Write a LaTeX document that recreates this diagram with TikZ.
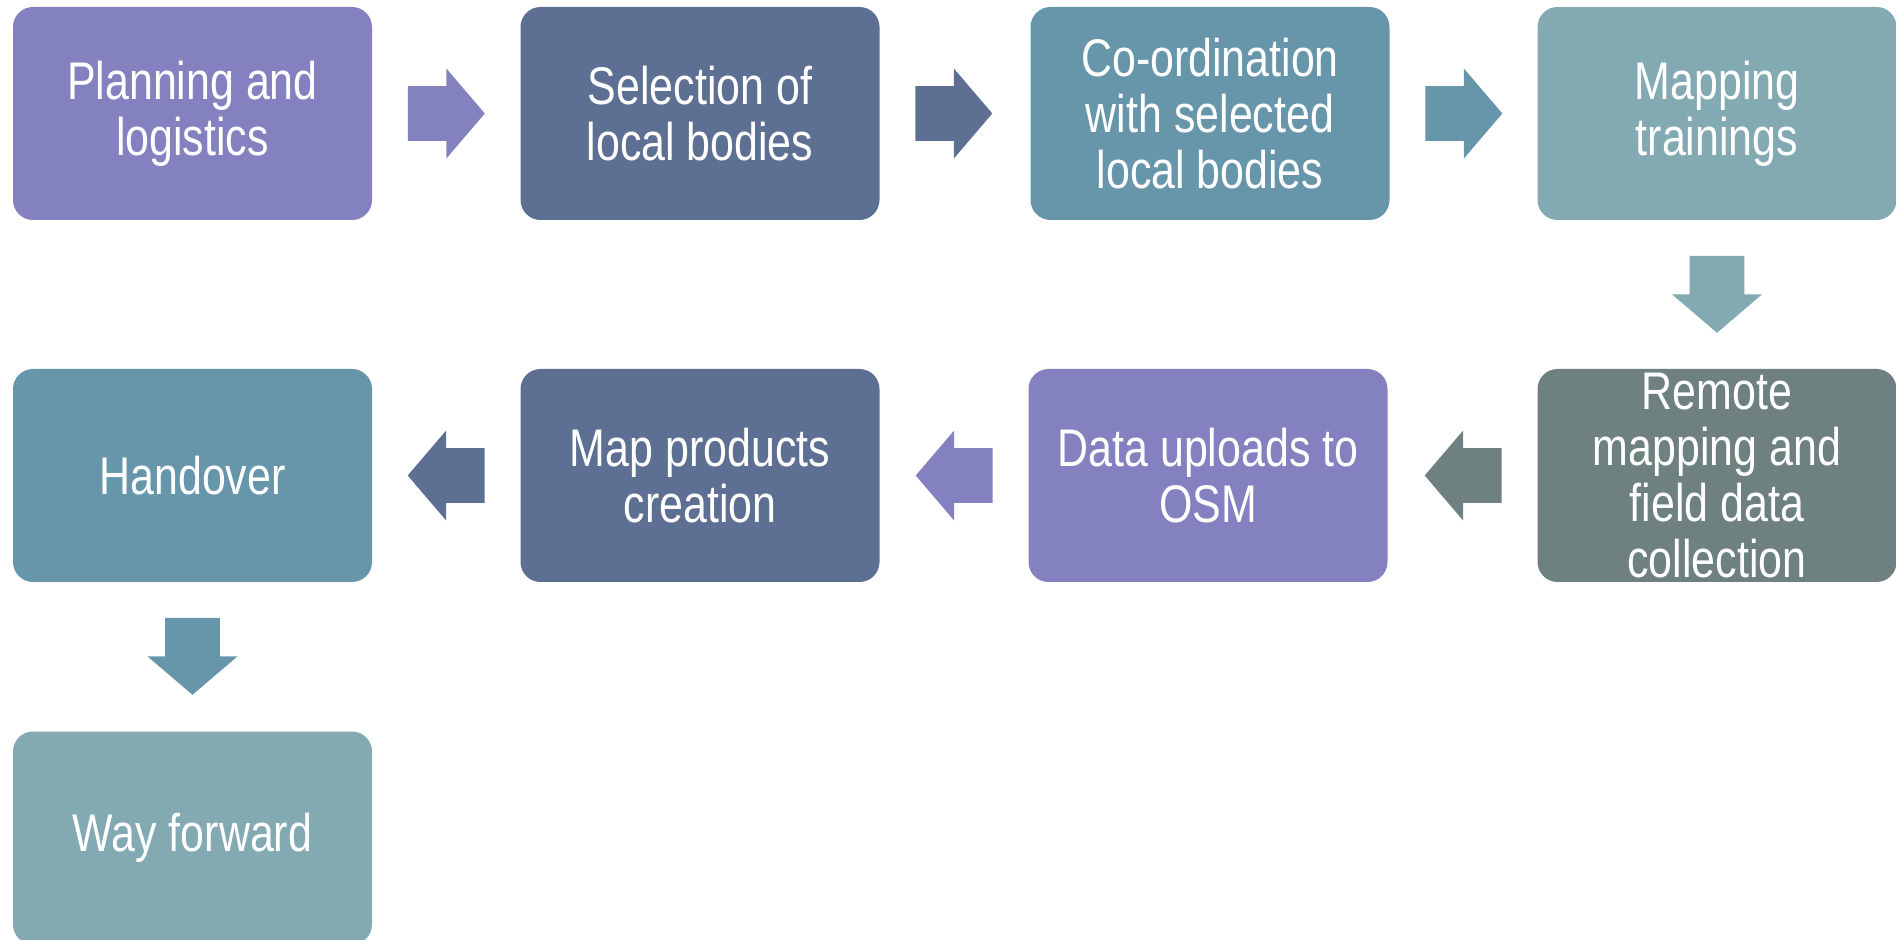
\documentclass[tikz,border=0pt]{standalone}
\usepackage{fontspec}
\setmainfont{Liberation Sans}[FakeStretch=0.81]
\usetikzlibrary{shapes.arrows,calc}

\definecolor{cpurple}{HTML}{8481C1}
\definecolor{cslate}{HTML}{5D7093}
\definecolor{cteal}{HTML}{6796AB}
\definecolor{clight}{HTML}{83A9B3}
\definecolor{cgrey}{HTML}{6E8080}

\begin{document}
\begin{tikzpicture}[x=0.5pt,y=0.5pt]
\tikzstyle{box}=[rounded corners=10pt, minimum width=179.5pt, minimum height=106.5pt, inner sep=0pt, text=white, align=center, font=\fontsize{26.5}{28}\selectfont]
\tikzstyle{blockarrow}=[single arrow, anchor=tail, single arrow tip angle=99, single arrow head extend=8.75pt, single arrow head indent=0pt, minimum height=38.5pt, minimum width=0pt, inner xsep=0pt, inner ysep=13.5pt]
\useasboundingbox (0,0) rectangle (1896,-940);
\node [box, fill=cpurple] (plan) at (192.5,-113.5) {Planning and\\logistics};
\node [box, fill=cslate] (select) at (700,-113.5) {Selection of\\local bodies};
\node [box, fill=cteal] (coord) at (1210,-113.5) {Co-ordination\\with selected\\local bodies};
\node [box, fill=clight] (train) at (1717,-113.5) {Mapping\\trainings};
\node [box, fill=cgrey] (remote) at (1717,-475.5) {Remote\\mapping and\\field data\\collection};
\node [box, fill=cpurple] (upload) at (1208,-475.5) {Data uploads to\\OSM};
\node [box, fill=cslate] (products) at (700,-475.5) {Map products\\creation};
\node [box, fill=cteal] (handover) at (192.5,-475.5) {Handover};
\node [box, fill=clight] (forward) at (192.5,-838) {Way forward};
\node [blockarrow, fill=cpurple] (a1) at ($(plan.east)+(35,0)$) {};
\node [blockarrow, fill=cslate] (a2) at ($(select.east)+(35,0)$) {};
\node [blockarrow, fill=cteal] (a3) at ($(coord.east)+(35,0)$) {};
\node [blockarrow, fill=clight, rotate=-90] (a4) at ($(train.south)+(0,-35)$) {};
\node [blockarrow, fill=cgrey, rotate=180] (a5) at ($(remote.west)+(-35,0)$) {};
\node [blockarrow, fill=cpurple, rotate=180] (a6) at ($(upload.west)+(-35,0)$) {};
\node [blockarrow, fill=cslate, rotate=180] (a7) at ($(products.west)+(-35,0)$) {};
\node [blockarrow, fill=cteal, rotate=-90] (a8) at ($(handover.south)+(0,-35)$) {};
\end{tikzpicture}
\end{document}
